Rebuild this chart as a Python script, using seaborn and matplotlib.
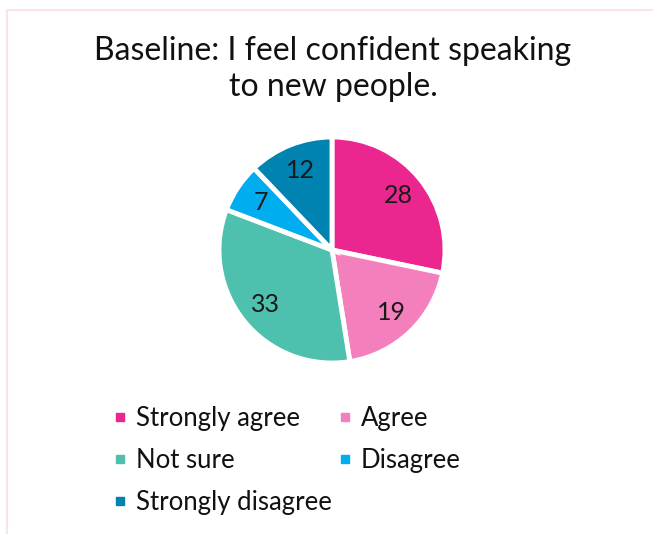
import matplotlib
matplotlib.use("Agg")
import matplotlib.pyplot as plt
from matplotlib.lines import Line2D
import seaborn as sns

categories = ["Strongly agree", "Agree", "Not sure", "Disagree", "Strongly disagree"]
counts = [28, 19, 33, 7, 12]
colors = ["#EC268F", "#F47FBD", "#4EC0AE", "#00AEEF", "#0083B0"]
title = "Baseline: I feel confident speaking\nto new people."

sns.set_theme(style="white")
plt.rcParams["font.family"] = ["Lato", "DejaVu Sans"]

W, H = 653, 534
fig = plt.figure(figsize=(W / 100, H / 100), dpi=100)
fig.patch.set_facecolor("white")

# thin pink frame (top and left edges)
frame_col = "#FBE3EE"
fig.add_artist(Line2D([7 / W, 1], [1 - 10 / H, 1 - 10 / H], color=frame_col, lw=1.5))
fig.add_artist(Line2D([7 / W, 7 / W], [0, 1 - 10 / H], color=frame_col, lw=1.5))

# pie
cx, cy, R = 332, 250, 113
ax = fig.add_axes([(cx - R) / W, 1 - (cy + R) / H, 2 * R / W, 2 * R / H])
palette = sns.color_palette(colors)
wedges, texts = ax.pie(
    counts,
    colors=palette,
    startangle=90,
    counterclock=False,
    labels=[str(c) for c in counts],
    labeldistance=0.76,
    wedgeprops=dict(edgecolor="white", linewidth=3.5),
    textprops=dict(fontsize=18, color="#1a1a1a"),
)
for t in texts:
    t.set_horizontalalignment("center")
    t.set_verticalalignment("center")
ax.set_xlim(-1, 1)
ax.set_ylim(-1, 1)
ax.set_aspect("equal")
ax.axis("off")

fig.text(333 / W, 1 - 69 / H, title, ha="center", va="center",
         fontsize=23, color="#111111", linespacing=1.25)

# legend, read row-wise across two columns
order = [0, 2, 4, 1, 3]
handles = [Line2D([], [], marker="s", linestyle="none", markersize=6,
                  markerfacecolor=colors[i], markeredgecolor=colors[i]) for i in order]
fig.legend(handles, [categories[i] for i in order], ncol=2,
           loc="upper left", bbox_to_anchor=(114 / W, 1 - 406 / H),
           frameon=False, fontsize=18.5, handlelength=0.5, handletextpad=0.35,
           columnspacing=0.27, labelspacing=0.67, borderpad=0, borderaxespad=0,
           labelcolor="#111111")

fig.savefig("out.png", dpi=100, facecolor="white")
